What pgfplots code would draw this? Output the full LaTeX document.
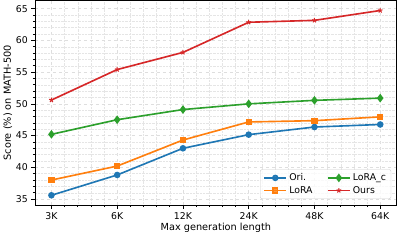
\documentclass[border=0pt]{standalone}
\usepackage{fontspec}
\setmainfont{DejaVu Sans}
\usepackage{pgfplots}
\pgfplotsset{compat=1.18}
\definecolor{tabblue}{HTML}{1F77B4}
\definecolor{taborange}{HTML}{FF7F0E}
\definecolor{tabgreen}{HTML}{2CA02C}
\definecolor{tabred}{HTML}{D62728}
\begin{document}
\begin{tikzpicture}
\begin{axis}[
 scale only axis, width=355bp, height=201bp,
 xmin=-0.25, xmax=5.25, ymin=34.05, ymax=66.3,
 xtick={0,...,5}, xticklabels={3K,6K,12K,24K,48K,64K},
 ytick={35,40,...,65},
 minor x tick num=4, minor y tick num=4,
 grid=both,
 major grid style={dashed, black!13, line width=0.5pt},
 minor grid style={densely dotted, black!10, line width=0.4pt},
 tick align=outside, tick pos=left,
 major tick length=3.5bp, minor tick length=2bp,
 every tick/.style={black, line width=0.6pt},
 axis line style={line width=0.7pt},
 xlabel={Max generation length}, ylabel={Score (\%) on MATH-500},
 tick label style={font=\fontsize{9.2}{10}\selectfont},
 label style={font=\fontsize{9.6}{11}\selectfont},
 xlabel style={yshift=3bp},
 ylabel style={yshift=-3bp},
 /pgf/number format/assume math mode=true,
 legend columns=2, transpose legend,
 legend style={at={(0.985,0.03)}, anchor=south east, font=\fontsize{9.2}{10}\selectfont,
   draw=black!20, rounded corners=2pt, fill=white, fill opacity=0.8, text opacity=1,
   /tikz/every even column/.append style={column sep=12bp}},
 legend image code/.code={\draw[mark repeat=2,mark phase=2] plot coordinates {(0bp,0bp)(11bp,0bp)(22bp,0bp)};},
 legend cell align=left,
 every axis plot/.append style={line width=1.6pt},
]
\addplot[tabblue, mark=*, mark size=2.4pt] coordinates {(0,35.6)(1,38.8)(2,43.0)(3,45.15)(4,46.35)(5,46.75)};
\addlegendentry{Ori.}
\addplot[taborange, mark=square*, mark size=2.3pt] coordinates {(0,38.0)(1,40.2)(2,44.3)(3,47.15)(4,47.35)(5,47.95)};
\addlegendentry{LoRA}
\addplot[tabgreen, mark=diamond*, mark size=3pt] coordinates {(0,45.2)(1,47.5)(2,49.1)(3,50.0)(4,50.55)(5,50.9)};
\addlegendentry{LoRA\_c}
\addplot[tabred, mark=star, mark size=2.4pt, mark options={line width=1pt}] coordinates {(0,50.6)(1,55.4)(2,58.1)(3,62.85)(4,63.15)(5,64.7)};
\addlegendentry{Ours}
\end{axis}
\end{tikzpicture}
\end{document}
